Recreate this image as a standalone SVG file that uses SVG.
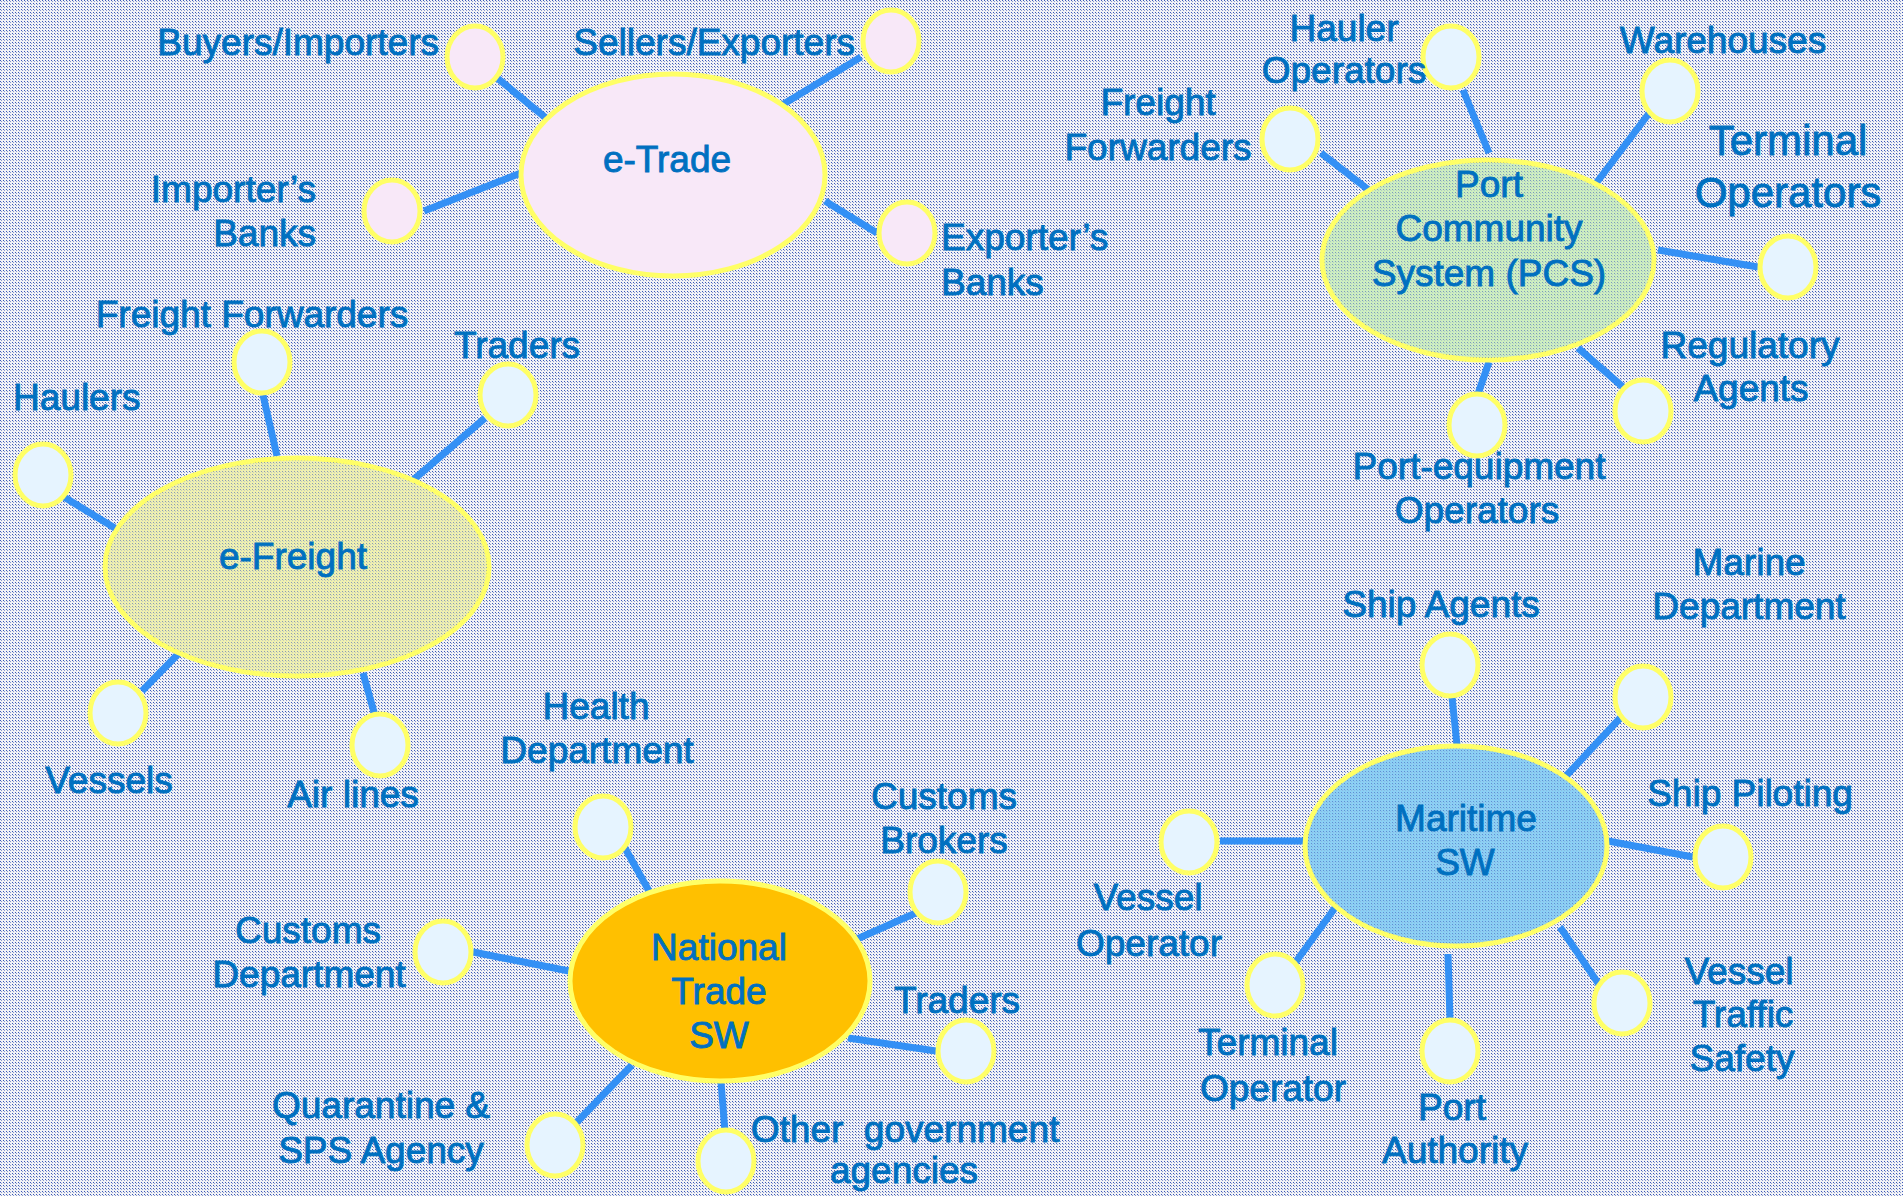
<svg xmlns="http://www.w3.org/2000/svg" width="1903" height="1196" viewBox="0 0 1903 1196">
<defs>
<pattern id="bg" patternUnits="userSpaceOnUse" width="3" height="3">
<rect width="3" height="3" fill="#f1f2f6"/>
<rect x="0" y="0" width="1" height="1" fill="#3a58b8"/>
<rect x="1" y="1" width="1" height="1" fill="#8a98cc"/>
</pattern>
<pattern id="dots" patternUnits="userSpaceOnUse" width="3" height="3">
<rect x="0" y="0" width="1" height="1" fill="#3a58b8" fill-opacity="0.55"/>
<rect x="1" y="1" width="1" height="1" fill="#8a98cc" fill-opacity="0.4"/>
</pattern>
<style>
.t{font-family:"Liberation Sans",Arial,sans-serif;font-size:37px;fill:#0070c0;stroke:#0070c0;stroke-width:0.9;text-anchor:middle}
.e{text-anchor:end}
.st{text-anchor:start}
.big{font-size:42px}
.s{fill:#e6f4ff;stroke:#ffff66;stroke-width:5}
.sp{fill:#f8e8f8;stroke:#ffff66;stroke-width:5}
.hub{stroke:#ffff66;stroke-width:5}
.ov{fill:url(#dots);stroke:none}
#connectors line{stroke:#3390f5;stroke-width:7}
</style>
</defs>
<rect width="1903" height="1196" fill="url(#bg)"/>

<g id="connectors">
<line x1="496" y1="77" x2="552" y2="123"/>
<line x1="861" y1="57" x2="782" y2="105"/>
<line x1="424" y1="211" x2="521" y2="173"/>
<line x1="877" y1="233" x2="825" y2="201"/>
<line x1="263" y1="395" x2="277" y2="456"/>
<line x1="485" y1="418" x2="412" y2="481"/>
<line x1="64" y1="497" x2="118" y2="530"/>
<line x1="142" y1="691" x2="181" y2="651"/>
<line x1="377" y1="723" x2="363" y2="673"/>
<line x1="1463" y1="90" x2="1489" y2="153"/>
<line x1="1321" y1="153" x2="1370" y2="191"/>
<line x1="1650" y1="112" x2="1594" y2="186"/>
<line x1="1758" y1="267" x2="1658" y2="250"/>
<line x1="1623" y1="387" x2="1578" y2="348"/>
<line x1="1478" y1="394" x2="1489" y2="362"/>
<line x1="625" y1="848" x2="649" y2="891"/>
<line x1="918" y1="912" x2="857" y2="939"/>
<line x1="473" y1="952" x2="569" y2="971"/>
<line x1="936" y1="1051" x2="848" y2="1038"/>
<line x1="576" y1="1123" x2="632" y2="1065"/>
<line x1="725" y1="1132" x2="721" y2="1082"/>
<line x1="1452" y1="697" x2="1457" y2="745"/>
<line x1="1623" y1="715" x2="1566" y2="776"/>
<line x1="1693" y1="857" x2="1608" y2="841"/>
<line x1="1220" y1="841" x2="1305" y2="841"/>
<line x1="1295" y1="963" x2="1337" y2="905"/>
<line x1="1450" y1="1020" x2="1448" y2="954"/>
<line x1="1600" y1="986" x2="1560" y2="927"/>
</g>

<!-- e-Trade cluster -->
<g id="e-trade">
<ellipse class="hub" cx="673" cy="175" rx="152" ry="101" fill="#f8e8f8"/>
<text class="t" x="667" y="172">e-Trade</text>
</g>
<g id="buyers-importers">
<ellipse class="sp" cx="475" cy="57" rx="28" ry="31"/>
<text class="t e" x="439" y="55">Buyers/Importers</text>
</g>
<g id="sellers-exporters">
<ellipse class="sp" cx="891" cy="41" rx="28" ry="31"/>
<text class="t e" x="855" y="55">Sellers/Exporters</text>
</g>
<g id="importers-banks">
<ellipse class="sp" cx="392" cy="211" rx="28" ry="31"/>
<text class="t e" x="316" y="202">Importer’s</text>
<text class="t e" x="316" y="246">Banks</text>
</g>
<g id="exporters-banks">
<ellipse class="sp" cx="907" cy="233" rx="28" ry="31"/>
<text class="t st" x="941" y="250">Exporter’s</text>
<text class="t st" x="941" y="295">Banks</text>
</g>

<!-- e-Freight cluster -->
<g id="e-freight">
<ellipse class="hub" cx="297" cy="567" rx="192" ry="109" fill="#eef0b0"/>
<ellipse class="ov" cx="297" cy="567" rx="190" ry="107"/>
<text class="t" x="293" y="569">e-Freight</text>
</g>
<g id="ef-freight-forwarders">
<ellipse class="s" cx="262" cy="362" rx="28" ry="31"/>
<text class="t" x="252" y="327">Freight Forwarders</text>
</g>
<g id="ef-traders">
<ellipse class="s" cx="508" cy="395" rx="28" ry="31"/>
<text class="t" x="517" y="358">Traders</text>
</g>
<g id="ef-haulers">
<ellipse class="s" cx="43" cy="475" rx="28" ry="31"/>
<text class="t st" x="13" y="410">Haulers</text>
</g>
<g id="ef-vessels">
<ellipse class="s" cx="118" cy="713" rx="28" ry="31"/>
<text class="t" x="109" y="793">Vessels</text>
</g>
<g id="ef-airlines">
<ellipse class="s" cx="380" cy="745" rx="28" ry="31"/>
<text class="t" x="353" y="807">Air lines</text>
</g>

<!-- PCS cluster -->
<g id="pcs">
<ellipse class="hub" cx="1488" cy="260" rx="166" ry="100" fill="#cdeec0"/>
<ellipse class="ov" cx="1488" cy="260" rx="164" ry="98"/>
<text class="t" x="1489" y="197">Port</text>
<text class="t" x="1489" y="241">Community</text>
<text class="t" x="1489" y="286">System (PCS)</text>
</g>
<g id="pcs-hauler-operators">
<ellipse class="s" cx="1451" cy="57" rx="28" ry="31"/>
<text class="t" x="1344" y="41">Hauler</text>
<text class="t" x="1344" y="83">Operators</text>
</g>
<g id="pcs-freight-forwarders">
<ellipse class="s" cx="1290" cy="139" rx="28" ry="31"/>
<text class="t" x="1158" y="115">Freight</text>
<text class="t" x="1158" y="160">Forwarders</text>
</g>
<g id="pcs-warehouses">
<ellipse class="s" cx="1670" cy="91" rx="28" ry="31"/>
<text class="t" x="1723" y="53">Warehouses</text>
</g>
<g id="pcs-terminal-operators">
<ellipse class="s" cx="1788" cy="267" rx="28" ry="31"/>
<text class="t big" x="1788" y="155">Terminal</text>
<text class="t big" x="1788" y="207">Operators</text>
</g>
<g id="pcs-regulatory-agents">
<ellipse class="s" cx="1643" cy="411" rx="28" ry="31"/>
<text class="t" x="1750" y="358">Regulatory</text>
<text class="t" x="1751" y="401">Agents</text>
</g>
<g id="pcs-port-equipment">
<ellipse class="s" cx="1477" cy="425" rx="28" ry="31"/>
<text class="t" x="1479" y="479">Port-equipment</text>
<text class="t" x="1477" y="523">Operators</text>
</g>

<!-- National Trade SW cluster -->
<g id="national-trade-sw">
<ellipse class="hub" cx="720" cy="981" rx="150" ry="100" fill="#ffc000"/>
<text class="t" x="719" y="960">National</text>
<text class="t" x="719" y="1004">Trade</text>
<text class="t" x="719" y="1048">SW</text>
</g>
<g id="nt-health">
<ellipse class="s" cx="603" cy="827" rx="28" ry="31"/>
<text class="t" x="596" y="719">Health</text>
<text class="t" x="597" y="763">Department</text>
</g>
<g id="nt-customs-brokers">
<ellipse class="s" cx="938" cy="892" rx="28" ry="31"/>
<text class="t" x="944" y="809">Customs</text>
<text class="t" x="944" y="853">Brokers</text>
</g>
<g id="nt-customs-department">
<ellipse class="s" cx="443" cy="952" rx="28" ry="31"/>
<text class="t" x="308" y="943">Customs</text>
<text class="t" x="309" y="987">Department</text>
</g>
<g id="nt-traders">
<ellipse class="s" cx="966" cy="1051" rx="28" ry="31"/>
<text class="t" x="957" y="1013">Traders</text>
</g>
<g id="nt-quarantine">
<ellipse class="s" cx="555" cy="1145" rx="28" ry="31"/>
<text class="t" x="381" y="1118">Quarantine &amp;</text>
<text class="t" x="381" y="1163">SPS Agency</text>
</g>
<g id="nt-other-gov">
<ellipse class="s" cx="726" cy="1161" rx="28" ry="31"/>
<text class="t" x="905" y="1142" xml:space="preserve">Other  government</text>
<text class="t" x="904" y="1183">agencies</text>
</g>

<!-- Maritime SW cluster -->
<g id="maritime-sw">
<ellipse class="hub" cx="1456" cy="846" rx="151" ry="100" fill="#8cd0f4"/>
<ellipse class="ov" cx="1456" cy="846" rx="149" ry="98"/>
<text class="t" x="1466" y="831">Maritime</text>
<text class="t" x="1465" y="875">SW</text>
</g>
<g id="ms-ship-agents">
<ellipse class="s" cx="1450" cy="665" rx="28" ry="31"/>
<text class="t" x="1441" y="617">Ship Agents</text>
</g>
<g id="ms-marine-department">
<ellipse class="s" cx="1643" cy="697" rx="28" ry="31"/>
<text class="t" x="1749" y="575">Marine</text>
<text class="t" x="1749" y="619">Department</text>
</g>
<g id="ms-ship-piloting">
<ellipse class="s" cx="1723" cy="857" rx="28" ry="31"/>
<text class="t" x="1750" y="806">Ship Piloting</text>
</g>
<g id="ms-vessel-operator">
<ellipse class="s" cx="1189" cy="842" rx="28" ry="31"/>
<text class="t" x="1148" y="910">Vessel</text>
<text class="t" x="1149" y="956">Operator</text>
</g>
<g id="ms-terminal-operator">
<ellipse class="s" cx="1275" cy="985" rx="28" ry="31"/>
<text class="t" x="1268" y="1055">Terminal</text>
<text class="t" x="1273" y="1101">Operator</text>
</g>
<g id="ms-port-authority">
<ellipse class="s" cx="1450" cy="1051" rx="28" ry="31"/>
<text class="t" x="1452" y="1120">Port</text>
<text class="t" x="1455" y="1163">Authority</text>
</g>
<g id="ms-vessel-traffic-safety">
<ellipse class="s" cx="1622" cy="1003" rx="28" ry="31"/>
<text class="t" x="1739" y="984">Vessel</text>
<text class="t" x="1743" y="1027">Traffic</text>
<text class="t" x="1742" y="1071">Safety</text>
</g>
</svg>
